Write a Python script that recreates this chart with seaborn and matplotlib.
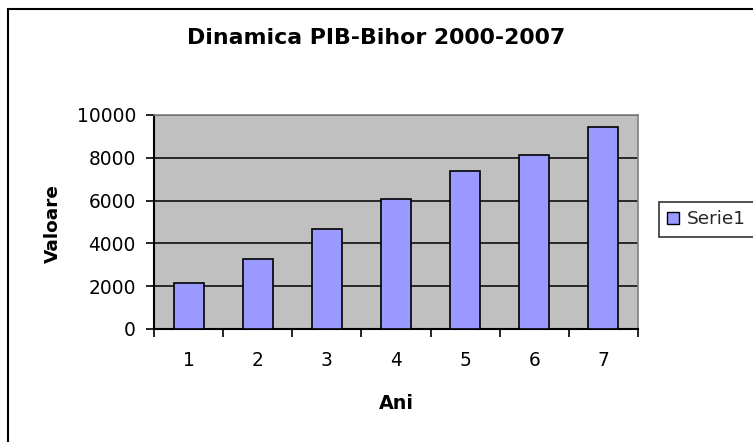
import numpy as np
import pandas as pd
import matplotlib
matplotlib.use("Agg")
import matplotlib.pyplot as plt
import matplotlib.patches as mpatches
from matplotlib.ticker import MultipleLocator, FixedLocator
import seaborn as sns

# --- DATA ---
ani = ["1", "2", "3", "4", "5", "6", "7"]
valori = [2150, 3270, 4670, 6075, 7380, 8130, 9440]
serie = "Serie1"

df = pd.DataFrame({"Ani": ani, "Valoare": valori})

sns.set_theme(style="white")
plt.rcParams['font.family'] = ['DejaVu Sans']

fig = plt.figure(figsize=(7.53, 4.42), dpi=100)
ax = fig.add_axes([0.2045, 0.2557, 0.6428, 0.4842])

sns.barplot(data=df, x="Ani", y="Valoare", color="#9999ff", width=0.434,
            edgecolor="black", linewidth=1.2, saturation=1, ax=ax, zorder=3)

ax.set_facecolor("#c0c0c0")
ax.set_ylim(0, 10000)
ax.set_xlim(-0.5, len(ani) - 0.5)
ax.yaxis.set_major_locator(MultipleLocator(2000))
ax.grid(axis="y", color="black", linewidth=1.1, zorder=0)
ax.set_axisbelow(True)

# excel style: tick marks between categories
ax.xaxis.set_minor_locator(FixedLocator(np.arange(-0.5, len(ani), 1)))
ax.tick_params(axis="x", which="major", length=0, pad=16, labelsize=13.4, labelcolor="black")
ax.tick_params(axis="x", which="minor", length=6, width=1.2, color="black", direction="out", bottom=True)
ax.tick_params(axis="y", which="major", length=6, width=1.2, color="black",
               direction="out", labelsize=13.4, pad=7, left=True, labelcolor="black")

for side in ["left", "bottom"]:
    ax.spines[side].set_color("black")
    ax.spines[side].set_linewidth(1.5)
for side in ["top", "right"]:
    ax.spines[side].set_color("#808080")
    ax.spines[side].set_linewidth(1.2)

ax.set_xlabel("Ani", fontsize=13.8, fontweight="bold", color="black")
ax.set_ylabel("Valoare", fontsize=13.3, fontweight="bold", color="black")
ax.xaxis.set_label_coords(0.5, -0.305)
ax.yaxis.set_label_coords(-0.19, 0.493)
fig.text(0.5, 0.913, "Dinamica PIB-Bihor 2000-2007", fontsize=15.8, fontweight="bold",
         ha="center", va="center", color="black")

handle = mpatches.Patch(facecolor="#9999ff", edgecolor="black", label=serie)
leg = fig.legend(handles=[handle], loc="upper left", bbox_to_anchor=(0.875, 0.543),
                 frameon=True, fancybox=False, fontsize=13.3, handlelength=0.65,
                 handleheight=0.65, handletextpad=0.43, borderpad=0.45, borderaxespad=0)
leg.get_frame().set_edgecolor("black")
leg.get_frame().set_linewidth(1.2)

# chart border (only top and left visible, the rest is cut off)
fig.patches.append(mpatches.Rectangle((0.0106, -0.1), 1.2, 1.1 - 0.0204, transform=fig.transFigure,
                                      fill=False, edgecolor="black", linewidth=1.5))

fig.savefig("out.png", dpi=100, facecolor="white")
